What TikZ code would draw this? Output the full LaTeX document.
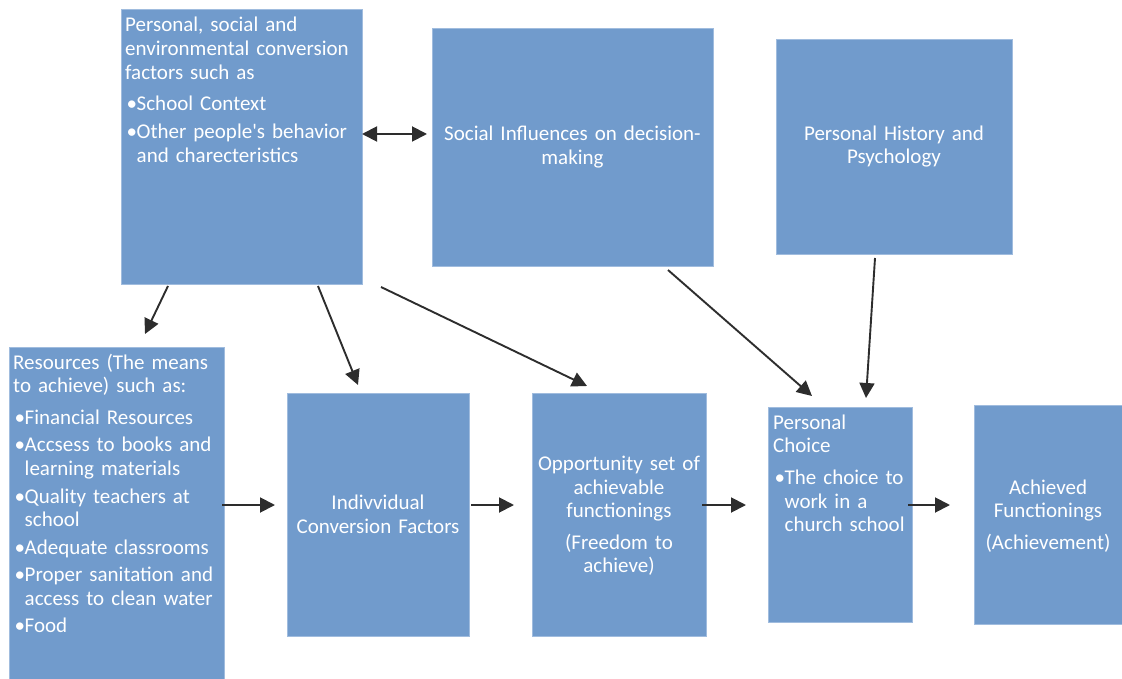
\documentclass[tikz,border=0pt]{standalone}
\usepackage{fontspec}
\setmainfont{Carlito}
\usetikzlibrary{arrows.meta}
\definecolor{boxfill}{RGB}{113,155,204}
\definecolor{boxline}{RGB}{160,188,222}
\definecolor{arrcol}{RGB}{45,45,45}
\newlength\hangw \setlength\hangw{11.5pt}
\newcommand\nl{\hfil\break}
\newcommand\bitem{\par\vspace{3.9pt}\hangindent=\hangw\hangafter=1\noindent\makebox[\hangw][l]{\kern1.5pt•}}
\newcommand\bfirst{\par\vspace{8.2pt}\hangindent=\hangw\hangafter=1\noindent\makebox[\hangw][l]{\kern1.5pt•}}
\newcommand\pgap{\par\vspace{8pt}}
\tikzset{
 box/.style={draw=boxline, line width=0.8pt, fill=boxfill, inner sep=0pt, outer sep=0pt},
 txt/.style={text=white, inner sep=0pt, font=\fontsize{21}{23.6}\selectfont},
 ltxt/.style={txt, text width=260pt, anchor=base west},
 ctxt/.style={txt, text width=#1, align=center, anchor=center},
 tip/.tip={Triangle[length=15pt,width=15pt]},
 arr/.style={draw=arrcol, line width=1.9pt, -tip},
 dblarr/.style={draw=arrcol, line width=1.9pt, tip-tip},
}
\begin{document}
\begin{tikzpicture}[x=1pt,y=-1pt]
\useasboundingbox (0,0) rectangle (1122,679);
% boxes
\node[box, minimum width=241pt, minimum height=275pt] (A) at (241.5,146.5) {};
\node[box, minimum width=281pt, minimum height=238pt] (B) at (572.5,147) {};
\node[box, minimum width=236pt, minimum height=215pt] (C) at (894,146.5) {};
\node[box, minimum width=215pt, minimum height=332pt] (D) at (116.5,513) {};
\node[box, minimum width=182pt, minimum height=243pt] (E) at (378,514.5) {};
\node[box, minimum width=174pt, minimum height=243pt] (F) at (619,514.5) {};
\node[box, minimum width=144pt, minimum height=215pt] (G) at (840,514.5) {};
\node[box, minimum width=148pt, minimum height=219pt] (H) at (1048,514.5) {};
% texts
\node[ltxt] (At) at ([shift={(4,23)}]A.north west) {\noindent Personal, social and\nl environmental conversion\nl factors such as\bfirst School Context\bitem Other people\textquotesingle s behavior\nl and charecteristics\par};
\node[ctxt=270pt] (Bt) at (B.center) {Social Influences on decision-\\making};
\node[ctxt=230pt] (Ct) at (C.center) {Personal History and\\Psychology};
\node[ltxt] (Dt) at ([shift={(4,22)}]D.north west) {\noindent Resources (The means\nl to achieve) such as:\bfirst Financial Resources\bitem Accsess to books and\nl learning materials\bitem Quality teachers at\nl school\bitem Adequate classrooms\bitem Proper sanitation and\nl access to clean water\bitem Food\par};
\node[ctxt=178pt] (Et) at (E.center) {Indivvidual\\Conversion Factors};
\node[ctxt=172pt] (Ft) at ([shift={(0,1.5)}]F.center) {Opportunity set of\\achievable\\functionings\pgap (Freedom to\\achieve)};
\node[ltxt] (Gt) at ([shift={(5,22)}]G.north west) {\noindent Personal\nl Choice\bfirst The choice to\nl work in a\nl church school\par};
\node[ctxt=146pt] (Ht) at ([shift={(0,1.5)}]H.center) {Achieved\\Functionings\pgap (Achievement)};
% connectors
\draw[dblarr] ([shift={(0,125)}]A.north east) -- ([shift={(-5,106)}]B.north west);
\draw[arr] ([shift={(47,2)}]A.south west) -- ([shift={(136,-13)}]D.north west);
\draw[arr] ([shift={(197,2)}]A.south west) -- ([shift={(71,-8)}]E.north west);
\draw[arr] ([shift={(19,3)}]A.south east) -- ([shift={(55,-7)}]F.north west);
\draw[arr] ([shift={(236,4)}]B.south west) -- ([shift={(44,-11)}]G.north west);
\draw[arr] ([shift={(99,4)}]C.south west) -- ([shift={(98,-9)}]G.north west);
\draw[arr] ([shift={(-2,158)}]D.north east) -- ([shift={(-12,112)}]E.north west);
\draw[arr] ([shift={(2,112)}]E.north east) -- ([shift={(-18,112)}]F.north west);
\draw[arr] ([shift={(-4,112)}]F.north east) -- ([shift={(-22,98)}]G.north west);
\draw[arr] ([shift={(-4,98)}]G.north east) -- ([shift={(-24,100)}]H.north west);
\end{tikzpicture}
\end{document}
